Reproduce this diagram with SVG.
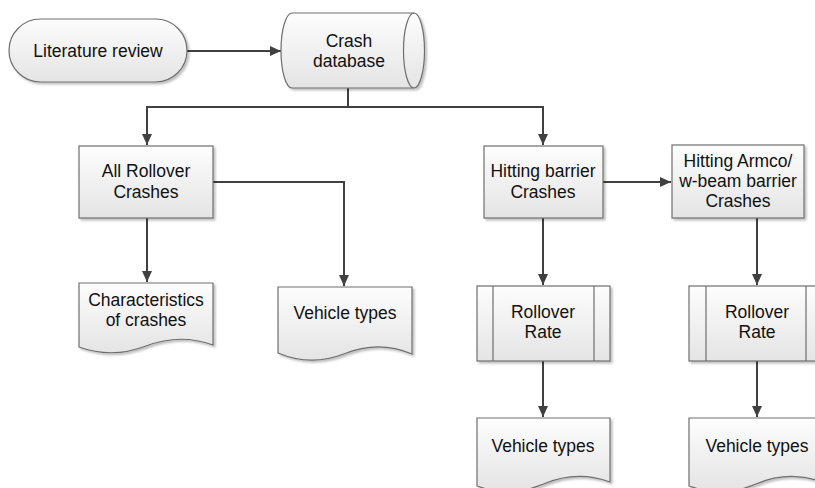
<svg xmlns="http://www.w3.org/2000/svg" width="815" height="488" viewBox="0 0 815 488">
<style>
.s{fill:url(#g);stroke:#6e6e6e;stroke-width:1.2;filter:url(#sh)}
.l{fill:none;stroke:#6e6e6e;stroke-width:1.2}
.t{font-family:"Liberation Sans",Arial,sans-serif;font-size:17.5px;fill:#111;text-anchor:middle}
.c{fill:none;stroke:#404040;stroke-width:2}
.a{fill:none;stroke:#404040;stroke-width:2;marker-end:url(#ar)}
</style>
<defs>
<linearGradient id="g" x1="0" y1="0" x2="0" y2="1">
<stop offset="0" stop-color="#fdfdfd"/>
<stop offset="1" stop-color="#e4e4e4"/>
</linearGradient>
<filter id="sh" x="-10%" y="-10%" width="130%" height="130%">
<feDropShadow dx="2" dy="2" stdDeviation="1" flood-color="#000" flood-opacity="0.25"/>
</filter>
<marker id="ar" markerUnits="userSpaceOnUse" markerWidth="12" markerHeight="12" refX="11" refY="6" orient="auto">
<path d="M0,1 L11,6 L0,11 Z" fill="#404040"/>
</marker>
</defs>
<rect width="815" height="488" fill="#fff"/>

<g id="connectors">
<path class="a" d="M187,51 H281"/>
<path class="a" d="M348,88 V107 H147 V145"/>
<path class="a" d="M348,107 H543 V145"/>
<path class="a" d="M147,218 V282"/>
<path class="a" d="M213,182 H344 V286"/>
<path class="a" d="M603,182 H671"/>
<path class="a" d="M543,218 V285"/>
<path class="a" d="M757,218 V285"/>
<path class="a" d="M543,361 V417"/>
<path class="a" d="M757,361 V417"/>
</g>

<g id="literature">
<rect class="s" x="9" y="19" width="178" height="63" rx="31.5"/>
<text class="t" x="98" y="57">Literature review</text>
</g>

<g id="crashdb">
<path class="s" d="M292,13 H414 A10.5,37.5 0 0 1 414,88 H292 A11,37.5 0 0 1 292,13 Z"/>
<path class="l" d="M414,13 A10.5,37.5 0 0 0 414,88"/>
<text class="t" x="349" y="47">Crash</text>
<text class="t" x="349" y="67">database</text>
</g>

<g id="allrollover">
<rect class="s" x="79" y="146" width="134" height="72"/>
<text class="t" x="146" y="177">All Rollover</text>
<text class="t" x="146" y="198">Crashes</text>
</g>

<g id="hitbarrier">
<rect class="s" x="484" y="146" width="119" height="72"/>
<text class="t" x="543" y="177">Hitting barrier</text>
<text class="t" x="543" y="198">Crashes</text>
</g>

<g id="armco">
<rect class="s" x="672" y="145" width="132" height="73"/>
<text class="t" x="738" y="167">Hitting Armco/</text>
<text class="t" x="738" y="187">w-beam barrier</text>
<text class="t" x="738" y="207">Crashes</text>
</g>

<g id="characteristics">
<path class="s" d="M79,283 H213 V345 Q180,333 146,346 T79,347 Z"/>
<text class="t" x="146" y="306">Characteristics</text>
<text class="t" x="146" y="326">of crashes</text>
</g>

<g id="vehicletypes1">
<path class="s" d="M278,287 H412 V354 Q379,340 345,353.5 T278,353 Z"/>
<text class="t" x="345" y="319">Vehicle types</text>
</g>

<g id="rolloverrate1">
<rect class="s" x="477" y="286" width="133" height="75"/>
<path class="l" d="M493,286 V361 M594,286 V361"/>
<text class="t" x="543" y="318">Rollover</text>
<text class="t" x="543" y="338">Rate</text>
</g>

<g id="rolloverrate2">
<rect class="s" x="689" y="286" width="134" height="75"/>
<path class="l" d="M706,286 V361 M806,286 V361"/>
<text class="t" x="757" y="318">Rollover</text>
<text class="t" x="757" y="338">Rate</text>
</g>

<g id="vehicletypes2">
<path class="s" d="M477,418 H610 V482 Q577,470 543.5,484 T477,486 Z"/>
<text class="t" x="543" y="452">Vehicle types</text>
</g>

<g id="vehicletypes3">
<path class="s" d="M689,418 H823 V482 Q789,470 756,484 T689,486 Z"/>
<text class="t" x="757" y="452">Vehicle types</text>
</g>
</svg>
